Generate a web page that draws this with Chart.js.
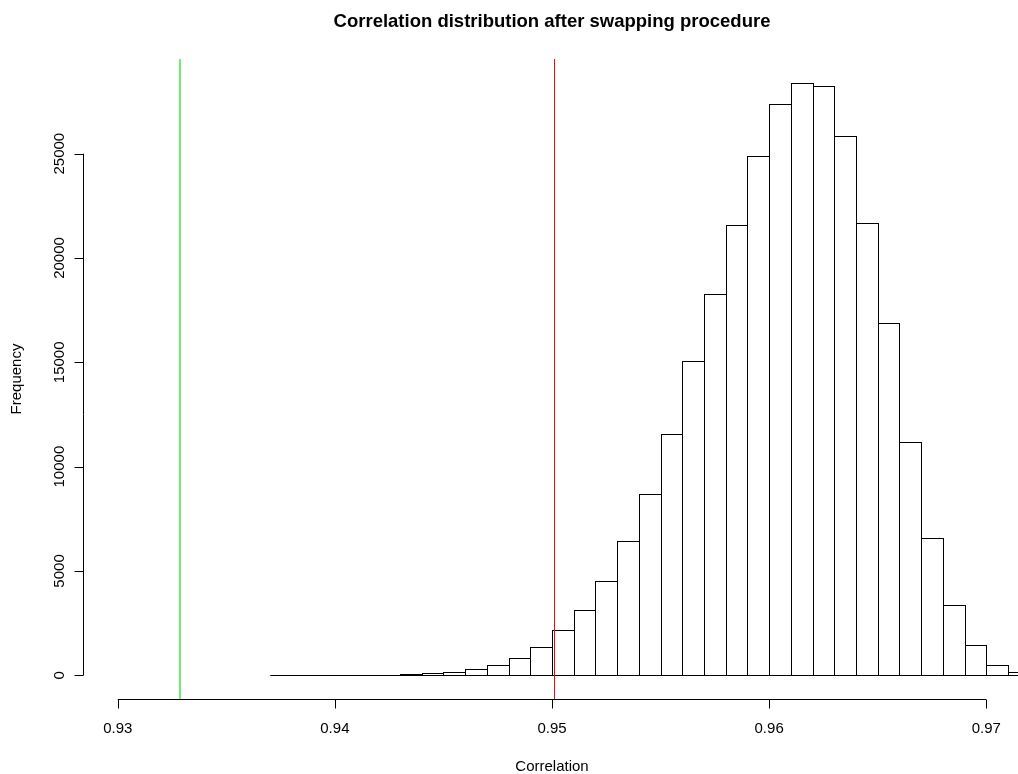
<!DOCTYPE html>
<html>
<head>
<meta charset="utf-8">
<script src="https://cdn.jsdelivr.net/npm/chart.js@4.4.1/dist/chart.umd.min.js"></script>
<style>
  html, body { margin: 0; padding: 0; background: #fff; overflow: hidden; }
  canvas { display: block; }
</style>
</head>
<body>
<canvas id="hist" width="1021" height="774"></canvas>
<script>
// histogram bins (left edge of each 0.001-wide bin) and their counts
const binStarts = [0.937, 0.938, 0.939, 0.940, 0.941, 0.942, 0.943, 0.944, 0.945, 0.946,
                   0.947, 0.948, 0.949, 0.950, 0.951, 0.952, 0.953, 0.954, 0.955, 0.956,
                   0.957, 0.958, 0.959, 0.960, 0.961, 0.962, 0.963, 0.964, 0.965, 0.966,
                   0.967, 0.968, 0.969, 0.970, 0.971];
const binCounts = [2, 3, 5, 9, 16, 30, 60, 110, 175, 310,
                   510, 830, 1360, 2190, 3150, 4530, 6450, 8700, 11580, 15070,
                   18250, 21600, 24900, 27400, 28400, 28250, 25850, 21700, 16900, 11170,
                   6590, 3390, 1450, 510, 180];
const binWidth = 0.001;

// axis ticks
const xTicks = [0.93, 0.94, 0.95, 0.96, 0.97];
const yTicks = [0, 5000, 10000, 15000, 20000, 25000];

// vertical reference lines (observed correlations)
const refValues = [0.93285, 0.95008];
const refColors = ['rgb(110,240,110)', '#ff0000'];
const refWidths = [2, 1];

const titleText = 'Correlation distribution after swapping procedure';
const xLabel = 'Correlation';
const yLabel = 'Frequency';

// R style axis ranges: limits extended by 4%
const xLim = [0.93, 0.97];
const yLim = [0, 28400];
const xPad = (xLim[1] - xLim[0]) * 0.04;
const yPad = (yLim[1] - yLim[0]) * 0.04;

const FONT = '"Liberation Sans", Arial, Helvetica, sans-serif';

const rPlot = {
  id: 'rPlot',
  afterDatasetsDraw(chart) {
    const ctx = chart.ctx;
    const area = chart.chartArea;
    const xs = chart.scales.x;
    ctx.save();
    // outline each bar like rect() in R
    ctx.strokeStyle = '#000';
    ctx.lineWidth = 1;
    chart.getDatasetMeta(0).data.forEach(bar => {
      const p = bar.getProps(['x', 'y', 'base', 'width'], true);
      const l = Math.round(p.x - p.width / 2) + 0.5;
      const r = Math.round(p.x + p.width / 2) + 0.5;
      const t = Math.round(p.y) + 0.5;
      const b = Math.round(p.base) + 0.5;
      ctx.strokeRect(l, t, r - l, b - t);
    });
    // abline(v = ...)
    refValues.forEach((v, i) => {
      const w = refWidths[i];
      const px = Math.round(xs.getPixelForValue(v)) + (w % 2 ? 0.5 : 0);
      ctx.strokeStyle = refColors[i];
      ctx.lineWidth = w;
      ctx.beginPath();
      ctx.moveTo(px, area.top);
      ctx.lineTo(px, area.bottom);
      ctx.stroke();
    });
    ctx.restore();
  },
  afterDraw(chart) {
    const ctx = chart.ctx;
    const area = chart.chartArea;
    const xs = chart.scales.x;
    const ys = chart.scales.y;
    const midX = (area.left + area.right) / 2;
    const midY = (area.top + area.bottom) / 2;
    ctx.save();
    ctx.strokeStyle = '#000';
    ctx.fillStyle = '#000';
    ctx.lineWidth = 1;

    // x axis
    const ax = Math.round(area.bottom) + 0.5;
    ctx.beginPath();
    ctx.moveTo(xs.getPixelForValue(xTicks[0]), ax);
    ctx.lineTo(xs.getPixelForValue(xTicks[xTicks.length - 1]), ax);
    xTicks.forEach(v => {
      const px = Math.round(xs.getPixelForValue(v)) + 0.5;
      ctx.moveTo(px, ax);
      ctx.lineTo(px, ax + 9);
    });
    ctx.stroke();
    ctx.font = '15px ' + FONT;
    ctx.textAlign = 'center';
    ctx.textBaseline = 'middle';
    xTicks.forEach(v => {
      ctx.fillText(v.toFixed(2), xs.getPixelForValue(v), 729);
    });

    // y axis
    const ay = Math.round(area.left) + 0.5;
    ctx.beginPath();
    ctx.moveTo(ay, ys.getPixelForValue(yTicks[0]));
    ctx.lineTo(ay, ys.getPixelForValue(yTicks[yTicks.length - 1]));
    yTicks.forEach(v => {
      const py = Math.round(ys.getPixelForValue(v)) + 0.5;
      ctx.moveTo(ay, py);
      ctx.lineTo(ay - 9, py);
    });
    ctx.stroke();
    yTicks.forEach(v => {
      ctx.save();
      ctx.translate(60, ys.getPixelForValue(v));
      ctx.rotate(-Math.PI / 2);
      ctx.fillText(String(v), 0, 0);
      ctx.restore();
    });

    // axis titles
    ctx.fillText(xLabel, midX, 767);
    ctx.save();
    ctx.translate(17, midY);
    ctx.rotate(-Math.PI / 2);
    ctx.fillText(yLabel, 0, 0);
    ctx.restore();

    // main title
    ctx.font = 'bold 18.5px ' + FONT;
    ctx.textBaseline = 'alphabetic';
    ctx.fillText(titleText, midX, 27);
    ctx.restore();
  }
};

new Chart(document.getElementById('hist'), {
  type: 'bar',
  data: {
    datasets: [{
      data: binStarts.map((s, i) => ({ x: s + binWidth / 2, y: binCounts[i] })),
      backgroundColor: '#ffffff',
      borderWidth: 0,
      barPercentage: 1,
      categoryPercentage: 1
    }]
  },
  options: {
    responsive: false,
    animation: false,
    layout: { padding: { left: 83, top: 59, right: 0, bottom: 75 } },
    scales: {
      x: {
        type: 'linear',
        display: false,
        offset: false,
        min: xLim[0] - xPad,
        max: xLim[1] + xPad
      },
      y: {
        display: false,
        min: yLim[0] - yPad,
        max: yLim[1] + yPad
      }
    },
    plugins: {
      legend: { display: false },
      tooltip: { enabled: false },
      title: { display: false }
    }
  },
  plugins: [rPlot]
});
</script>
</body>
</html>
